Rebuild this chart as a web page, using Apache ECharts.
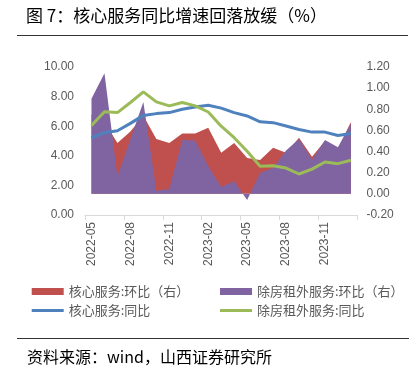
<!DOCTYPE html>
<html><head><meta charset="utf-8">
<script src="https://cdn.jsdelivr.net/npm/echarts@6/dist/echarts.min.js"></script>
<style>html,body{margin:0;padding:0;background:#fff;}#c{width:418px;height:370px;}</style>
</head><body><div id="c"></div>
<script>
const categories = ['2022-05','2022-06','2022-07','2022-08','2022-09','2022-10','2022-11','2022-12','2023-01','2023-02','2023-03','2023-04','2023-05','2023-06','2023-07','2023-08','2023-09','2023-10','2023-11','2023-12','2024-01'];
const coreMoM = [0.75,0.68,0.48,0.59,0.74,0.52,0.48,0.57,0.57,0.625,0.39,0.48,0.34,0.32,0.435,0.39,0.53,0.35,0.50,0.43,0.68];
const exRentMoM = [0.90,1.14,0.165,0.52,0.87,0.03,0.045,0.51,0.505,0.26,0.064,0.12,-0.057,0.20,0.245,0.41,0.52,0.32,0.51,0.44,0.66];
const coreYoY = [5.22,5.56,5.69,6.19,6.73,6.85,6.92,7.14,7.30,7.41,7.22,6.92,6.69,6.30,6.24,6.01,5.78,5.60,5.60,5.37,5.51];
const exRentYoY = [6.05,6.98,6.92,7.60,8.32,7.64,7.37,7.60,7.37,6.96,6.00,5.22,4.31,3.29,3.33,3.17,2.77,3.10,3.58,3.47,3.70];
const names = ['核心服务:环比（右）','除房租外服务:环比（右）','核心服务:同比','除房租外服务:同比'];
const colors = ['#C0504D','#8064A2','#4F81BD','#9BBB59'];

const chart = echarts.init(document.getElementById('c'));
const cjk = '"Noto Sans CJK SC", sans-serif';
const axisFont = {fontFamily:'"Liberation Sans", sans-serif', fontSize:12, color:'#595959'};
const legendText = {fontFamily:cjk, fontSize:13, color:'#595959'};
function lg(name, left, top, h){
  return {data:[name], left:left, top:top, itemWidth:32, itemHeight:h, icon:'rect', padding:0, textStyle:legendText, selectedMode:false};
}
chart.setOption({
  animation:false,
  color: colors,
  title:[
    {text:'图 7：核心服务同比增速回落放缓（%）', left:26, top:7, padding:0, textStyle:{fontFamily:cjk, fontSize:17, fontWeight:'normal', color:'#000'}},
    {text:'资料来源：wind，山西证券研究所', left:27, top:349, padding:0, textStyle:{fontFamily:cjk, fontSize:16, fontWeight:'normal', color:'#000'}}
  ],
  graphic:[
    {type:'line', shape:{x1:17,y1:35.5,x2:408,y2:35.5}, style:{stroke:'#333', lineWidth:1.2}},
    {type:'line', shape:{x1:17,y1:338.5,x2:409,y2:338.5}, style:{stroke:'#333', lineWidth:1.2}}
  ],
  legend:[
    lg(names[0], 31.7, 285, 7),
    lg(names[1], 220, 285, 7),
    lg(names[2], 31.7, 304, 3),
    lg(names[3], 220, 304, 3)
  ],
  grid:{left:85, right:60.6, top:67, bottom:155},
  xAxis:{
    type:'category', data:categories, boundaryGap:true,
    axisLine:{lineStyle:{color:'#d9d9d9', width:1}},
    axisTick:{show:true, interval:2, length:5, lineStyle:{color:'#d9d9d9'}},
    axisLabel:Object.assign({interval:2, rotate:90, margin:7}, axisFont),
    splitLine:{show:false}
  },
  yAxis:[
    {type:'value', min:0, max:10, interval:2, position:'left',
     axisLine:{show:false}, axisTick:{show:false}, splitLine:{show:false},
     axisLabel:Object.assign({margin:11, formatter:v=>v.toFixed(2)}, axisFont)},
    {type:'value', min:-0.2, max:1.2, interval:0.2, position:'right',
     axisLine:{show:false}, axisTick:{show:false}, splitLine:{show:false},
     axisLabel:Object.assign({margin:9, formatter:v=>(Math.round(v*100)/100).toFixed(2)}, axisFont)}
  ],
  series:[
    {name:names[0], type:'line', yAxisIndex:1, data:coreMoM, symbol:'none', lineStyle:{width:0}, areaStyle:{color:colors[0], opacity:1}, itemStyle:{color:colors[0]}, z:1},
    {name:names[1], type:'line', yAxisIndex:1, data:exRentMoM, symbol:'none', lineStyle:{width:0}, areaStyle:{color:colors[1], opacity:1}, itemStyle:{color:colors[1]}, z:2},
    {name:names[2], type:'line', yAxisIndex:0, data:coreYoY, symbol:'none', lineStyle:{width:3, color:colors[2]}, itemStyle:{color:colors[2]}, z:3},
    {name:names[3], type:'line', yAxisIndex:0, data:exRentYoY, symbol:'none', lineStyle:{width:3, color:colors[3]}, itemStyle:{color:colors[3]}, z:4}
  ]
});
</script></body></html>
